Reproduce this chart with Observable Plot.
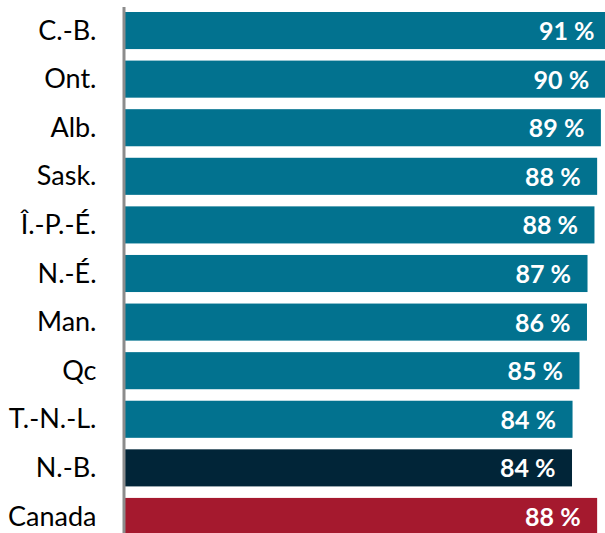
<!DOCTYPE html>
<html>
<head>
<meta charset="utf-8">
<script src="https://cdn.jsdelivr.net/npm/d3@7"></script>
<script src="https://cdn.jsdelivr.net/npm/@observablehq/plot@0.6"></script>
<style>
  html, body { margin: 0; padding: 0; background: #fff; overflow: hidden; }
  #chart svg { display: block; }
</style>
</head>
<body>
<div id="chart"></div>
<script>
const provinces = ["C.-B.", "Ont.", "Alb.", "Sask.", "Î.-P.-É.", "N.-É.", "Man.", "Qc", "T.-N.-L.", "N.-B.", "Canada"];
const values = [90.9, 89.9, 89.0, 88.3, 87.8, 86.5, 86.4, 85.0, 83.7, 83.6, 88.3];
const valueLabels = ["91 %", "90 %", "89 %", "88 %", "88 %", "87 %", "86 %", "85 %", "84 %", "84 %", "88 %"];
const groups = ["prov", "prov", "prov", "prov", "prov", "prov", "prov", "prov", "prov", "nb", "canada"];
const groupColors = {prov: "#02728f", nb: "#012538", canada: "#a5192e"};

const data = provinces.map((p, i) => ({name: p, value: values[i], label: valueLabels[i], group: groups[i]}));

const chart = Plot.plot({
  width: 605,
  height: 535,
  marginLeft: 125,
  marginRight: 0,
  marginTop: 12,
  marginBottom: 0,
  style: {fontFamily: "Lato, 'Open Sans', sans-serif", background: "#fff"},
  x: {domain: [0, 89.77], axis: null},
  y: {domain: provinces, paddingInner: 0.237, paddingOuter: 0, align: 0, round: false},
  marks: [
    Plot.barX(data, {x: "value", y: "name", fill: d => groupColors[d.group], clip: true}),
    Plot.text(data, {x: "value", y: "name", text: "label", textAnchor: "end", dx: -17, dy: 1, fill: "#fff", fontWeight: "bold", fontSize: 25}),
    Plot.ruleX([0], {stroke: "#8c8c8c", strokeWidth: 3, dx: -1.5, insetTop: -5}),
    Plot.axisY({tickSize: 0, tickPadding: 29, fontSize: 27, label: null, fill: "#000"})
  ]
});
document.getElementById("chart").appendChild(chart);
</script>
</body>
</html>
